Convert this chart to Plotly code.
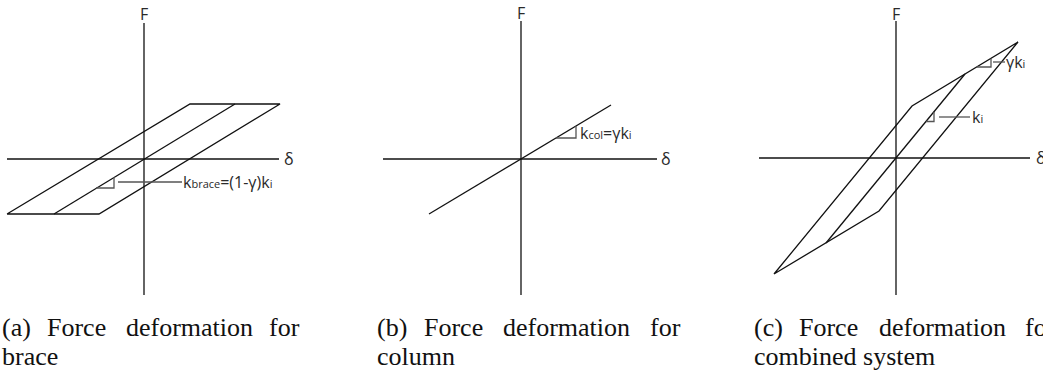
import plotly.graph_objects as go

# ---- data (deformation δ, force F) for the three panels ----
# (a) brace: elastic-perfectly-plastic hysteresis loop
brace_delta = [-137, 46, 136, -45, -137]
brace_force = [-55, 55, 55, -55, -55]
brace_mid_delta = [-90, 91]
brace_mid_force = [-55, 55]
brace_tri_delta = [-48, -30, -30]
brace_tri_force = [-29, -29, -18]
brace_lead_delta = [-26, 38]
brace_lead_force = [-23, -23]

# (b) column: linear elastic
column_delta = [-92, 90]
column_force = [-55, 54]
column_tri_delta = [35, 55, 55]
column_tri_force = [21, 21, 33]

# (c) combined system: bilinear hysteresis
comb_delta = [-122, 16, 122, -17, -122]
comb_force = [-116, 52, 116, -53, -116]
comb_mid_delta = [-70, 69]
comb_mid_force = [-85, 84]
comb_tri1_delta = [30, 38, 38]
comb_tri1_force = [36.5, 36.5, 46]
comb_lead1_delta = [43, 74]
comb_lead1_force = [41, 41]
comb_tri2_delta = [81, 95, 95]
comb_tri2_force = [91, 91, 99.5]
comb_lead2_delta = [97, 109]
comb_lead2_force = [96, 96]

# axis extents per panel: (δ min, δ max, F min, F max)
axis_extent = {
    "a": (-137, 135, -136, 136),
    "b": (-138, 136, -136, 138),
    "c": (-137, 134, -137, 137),
}

captions = {
    "a": (["(a)", "Force", "deformation", "for"], "brace"),
    "b": (["(b)", "Force", "deformation", "for"], "column"),
    "c": (["(c)", "Force", "deformation", "for"], "combined system"),
}

W, H = 1043, 372
BLACK = "#111111"
GREY = "#555555"
TXT = "#2a2a2a"
SANS = "Open Sans"
SERIF = "Liberation Serif"

fig = go.Figure()

# panel geometry in pixels: left, right of x-domain; origin pixel of each panel
panels = {
    "a": dict(xs="x", ys="y", px=(0, 300), ox=144, oy=159),
    "b": dict(xs="x2", ys="y2", px=(370, 670), ox=521, oy=159),
    "c": dict(xs="x3", ys="y3", px=(743, 1043), ox=896, oy=158),
}


def line(key, xs, ys, color=BLACK, width=1.3):
    p = panels[key]
    fig.add_trace(go.Scatter(x=xs, y=ys, mode="lines", xaxis=p["xs"], yaxis=p["ys"],
                             line=dict(color=color, width=width),
                             hoverinfo="skip", showlegend=False))


for key, (x0, x1, y0, y1) in axis_extent.items():
    line(key, [x0, x1], [0, 0])
    line(key, [0, 0], [y0, y1])

line("a", brace_delta, brace_force)
line("a", brace_mid_delta, brace_mid_force)
line("a", brace_tri_delta, brace_tri_force, GREY)
line("a", brace_lead_delta, brace_lead_force, GREY)

line("b", column_delta, column_force)
line("b", column_tri_delta, column_tri_force, GREY)

line("c", comb_delta, comb_force)
line("c", comb_mid_delta, comb_mid_force)
line("c", comb_tri1_delta, comb_tri1_force, GREY)
line("c", comb_lead1_delta, comb_lead1_force, GREY)
line("c", comb_tri2_delta, comb_tri2_force, GREY)
line("c", comb_lead2_delta, comb_lead2_force, GREY)

# axes layout: 1 data unit = 1 pixel
layout_axes = {}
for i, key in enumerate(["a", "b", "c"]):
    p = panels[key]
    sfx = "" if i == 0 else str(i + 1)
    l, r = p["px"]
    layout_axes["xaxis" + sfx] = dict(domain=[l / W, r / W], range=[l - p["ox"], r - p["ox"]],
                                      visible=False, fixedrange=True)
    layout_axes["yaxis" + sfx] = dict(domain=[(H - 300) / H, 1], range=[p["oy"] - 300, p["oy"]],
                                      visible=False, fixedrange=True)

ann = []


def label(key, x, y, text, size=16, xanchor="left"):
    p = panels[key]
    ann.append(dict(x=x, y=y, xref=p["xs"], yref=p["ys"], text=text, showarrow=False,
                    xanchor=xanchor, yanchor="middle",
                    font=dict(family=SANS, size=size, color=TXT)))


small = "<span style='font-size:11px'>{}</span>"
for key, fy in [("a", 145), ("b", 146), ("c", 144)]:
    label(key, 0, fy, "F", xanchor="center")
label("a", 138, 0, "δ")
label("b", 138, 0, "δ")
label("c", 138, 0, "δ")

label("a", 37, -23, "k" + small.format("brace") + "=(1-γ)k" + small.format("i"))
label("b", 57, 26, "k" + small.format("col") + "=γk" + small.format("i"))
label("c", 74, 41, "k" + small.format("i"))
label("c", 108, 96, "γk" + small.format("i"))

# captions: justified first line, words placed individually
word_x = {
    "a": [0, 45, 124, 267],
    "b": [375, 422, 501, 648],
    "c": [752, 797, 877, 1023],
}
for key, (words, second) in captions.items():
    for wx, w in zip(word_x[key], words):
        ann.append(dict(x=wx / W, y=1 - 327 / H, xref="paper", yref="paper", text=w,
                        showarrow=False, xanchor="left", yanchor="middle",
                        font=dict(family=SERIF, size=26, color="#111111")))
    ann.append(dict(x=word_x[key][0] / W, y=1 - 356 / H, xref="paper", yref="paper",
                    text=second, showarrow=False, xanchor="left", yanchor="middle",
                    font=dict(family=SERIF, size=26, color="#111111")))

fig.update_layout(width=W, height=H, margin=dict(l=0, r=0, t=0, b=0),
                  paper_bgcolor="white", plot_bgcolor="white",
                  annotations=ann, **layout_axes)

fig.write_html("out.html", config={"displayModeBar": False})
